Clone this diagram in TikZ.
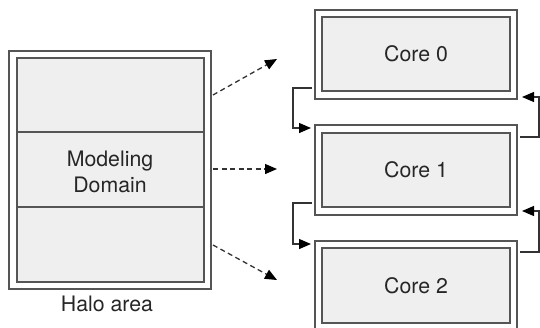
\documentclass[tikz,border=0pt]{standalone}
\usepackage{fontspec}
\setmainfont{TeX Gyre Heros}
\usetikzlibrary{arrows.meta}
\definecolor{edge}{HTML}{555555}
\definecolor{wire}{HTML}{333333}
\definecolor{panel}{HTML}{EFEFEF}
\begin{document}
\begin{tikzpicture}[x=1pt,y=-1pt,
  every node/.style={inner sep=0pt, outer sep=0pt, font=\fontsize{21.3}{26}\selectfont, text=black!85},
  outerbox/.style={draw=edge, line width=1.4pt, fill=white, rectangle},
  innerbox/.style={draw=edge, line width=1.4pt, fill=panel, rectangle},
  link/.style={draw=wire, line width=1.3pt, -{Triangle[length=12pt,width=10pt,color=black]}},
  maplink/.style={draw=wire, line width=1.3pt, dash pattern=on 5pt off 3.5pt, -{Triangle[length=12pt,width=10pt,color=black]}}]
\clip (0,0) rectangle (540,327);
\useasboundingbox (0,0) rectangle (540,327);

% domain with halo
\node[outerbox, minimum width=202pt, minimum height=238pt] (dom) at (110,170) {};
\node[innerbox, minimum width=187pt, minimum height=224pt] (domin) at (110.5,170) {};
\draw[edge, line width=1.4pt] (17,132) -- (204,132) (17,207) -- (204,207);
\node[align=center] (modtext) at (110,172) {Modeling\\Domain};
\node (halo) at (107,304) {Halo area};

% cores
\node[outerbox, minimum width=202pt, minimum height=89pt] (c0) at (416,54.5) {};
\node[innerbox, minimum width=188pt, minimum height=74pt] (c0i) at (416,54) {Core 0};
\node[outerbox, minimum width=202pt, minimum height=90pt] (c1) at (416,170) {};
\node[innerbox, minimum width=188pt, minimum height=74pt] (c1i) at (416,170) {Core 1};
\node[outerbox, minimum width=202pt, minimum height=94pt] (c2) at (416,288) {};
\node[innerbox, minimum width=188pt, minimum height=75pt] (c2i) at (416,285.5) {Core 2};

% halo exchange, left side
\coordinate (l0s) at ([xshift=-3pt,yshift=11pt]c0.south west);
\coordinate (l1e) at ([xshift=-4pt,yshift=-3pt]c1.north west);
\draw[link] (l0s) -- ++(-19,0) |- (l1e);
\coordinate (l1s) at ([xshift=-3pt,yshift=12pt]c1.south west);
\coordinate (l2e) at ([xshift=-4pt,yshift=-3pt]c2.north west);
\draw[link] (l1s) -- ++(-19,0) |- (l2e);

% halo exchange, right side
\coordinate (r1s) at ([xshift=3pt,yshift=-12pt]c1.north east);
\coordinate (r0e) at ([xshift=5pt,yshift=2pt]c0.south east);
\draw[link] (r1s) -- ++(19,0) |- (r0e);
\coordinate (r2s) at ([xshift=3pt,yshift=-11pt]c2.north east);
\coordinate (r1e) at ([xshift=5pt,yshift=4pt]c1.south east);
\draw[link] (r2s) -- ++(19,0) |- (r1e);

% decomposition of the domain onto cores
\coordinate (m0) at (277,59);
\coordinate (m1) at (277,169);
\coordinate (m2) at (277,280);
\draw[maplink] ([xshift=2pt]dom.east |- 0,95) -- (m0);
\draw[maplink] ([xshift=2pt]dom.east |- 0,169) -- (m1);
\draw[maplink] ([xshift=2pt]dom.east |- 0,245) -- (m2);
\end{tikzpicture}
\end{document}
